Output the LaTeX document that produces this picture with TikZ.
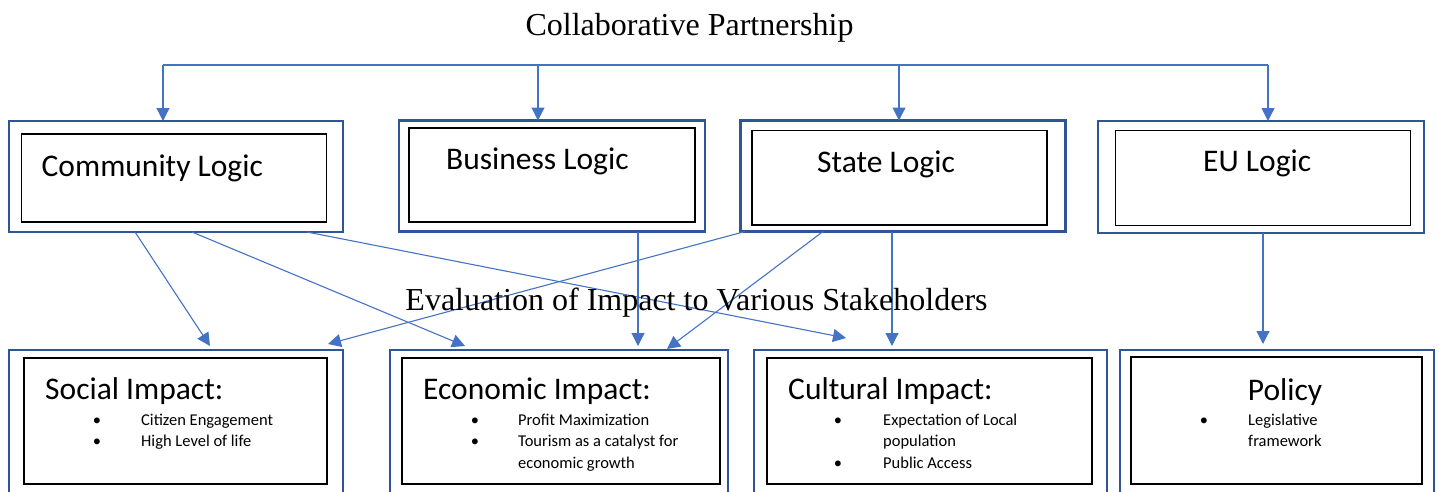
\documentclass[tikz,border=0pt]{standalone}
\usepackage{fontspec}
\setmainfont{Carlito}
\newfontfamily\serifface{Liberation Serif}
\usetikzlibrary{arrows.meta}

\definecolor{linkblue}{HTML}{4472C4}
\definecolor{frameblue}{HTML}{2F5597}

\tikzset{
  outerbox/.style={draw=frameblue, line width=2.8pt, anchor=north west, inner sep=0pt, outer sep=0pt},
  innerbox/.style={draw=black, line width=1.2pt, anchor=north west, inner sep=0pt, outer sep=0pt},
  conn/.style={draw=linkblue, line width=1.1pt},
  arr/.style={conn, -{Triangle[length=13pt,width=13pt]}},
  title/.style={font=\serifface\fontsize{32}{36}\selectfont, anchor=base, inner sep=0pt},
  heading/.style={font=\fontsize{31.5}{36}\selectfont, anchor=base west, inner sep=0pt},
  item/.style={font=\fontsize{16.5}{20}\selectfont, anchor=base west, inner sep=0pt},
  dot/.style={font=\fontsize{16.5}{20}\selectfont, anchor=base, inner sep=0pt}
}

\begin{document}
\begin{tikzpicture}[x=1pt, y=-1pt]
\useasboundingbox (0,0) rectangle (1442,491);
\clip (0,0) rectangle (1442,491);

% titles
\node[title] (t1) at (689.5,35.5) {Collaborative Partnership};

% logic boxes
\node[outerbox, minimum width=334pt, minimum height=111pt] (commO) at (9,121) {};
\node[innerbox, minimum width=305pt, minimum height=88pt] (commI) at (21.5,134) {};
\node[heading] (commT) at (41.5,176) {Community Logic};

\node[outerbox, minimum width=306pt, minimum height=111pt] (busO) at (399,120.5) {};
\node[innerbox, minimum width=286pt, minimum height=94pt] (busI) at (409,128) {};
\node[heading] (busT) at (446,169.5) {Business Logic};

\node[outerbox, minimum width=325pt, minimum height=111pt] (stateO) at (740.5,120.5) {};
\node[innerbox, minimum width=295pt, minimum height=94.5pt] (stateI) at (752,130.5) {};
\node[heading] (stateT) at (817,172.3) {State Logic};

\node[outerbox, minimum width=326pt, minimum height=112pt] (euO) at (1098,121) {};
\node[innerbox, minimum width=295pt, minimum height=95pt] (euI) at (1115.5,130.5) {};
\node[heading] (euT) at (1203,171.7) {EU Logic};

% impact boxes
\node[outerbox, minimum width=334pt, minimum height=150pt] (socO) at (9,350) {};
\node[innerbox, minimum width=303pt, minimum height=126pt] (socI) at (24,358) {};
\node[heading] (socT) at (45,399) {Social Impact:};
\node[dot] (socB1) at (97,425) {•};
\node[item] (socL1) at (141,425) {Citizen Engagement};
\node[dot] (socB2) at (97,446.5) {•};
\node[item] (socL2) at (141,446.5) {High Level of life};

\node[outerbox, minimum width=338pt, minimum height=150pt] (ecoO) at (390,350) {};
\node[innerbox, minimum width=318pt, minimum height=126pt] (ecoI) at (402,358) {};
\node[heading] (ecoT) at (423,399) {Economic Impact:};
\node[dot] (ecoB1) at (475,425) {•};
\node[item] (ecoL1) at (518,425) {Profit Maximization};
\node[dot] (ecoB2) at (475,446.5) {•};
\node[item] (ecoL2) at (518,446.5) {Tourism as a catalyst for};
\node[item] (ecoL3) at (518,468) {economic growth};

\node[outerbox, minimum width=353pt, minimum height=150pt] (culO) at (754,350) {};
\node[innerbox, minimum width=325pt, minimum height=126pt] (culI) at (767,358) {};
\node[heading] (culT) at (788,399) {Cultural Impact:};
\node[dot] (culB1) at (838,425) {•};
\node[item] (culL1) at (883,425) {Expectation of Local};
\node[item] (culL2) at (883,446.5) {population};
\node[dot] (culB2) at (838,468) {•};
\node[item] (culL3) at (883,468) {Public Access};

\node[outerbox, minimum width=314pt, minimum height=150pt] (polO) at (1120,350) {};
\node[innerbox, minimum width=291pt, minimum height=127pt] (polI) at (1131,357) {};
\node[heading, anchor=base] (polT) at (1285,400) {Policy};
\node[dot] (polB1) at (1204,425) {•};
\node[item] (polL1) at (1248,425) {Legislative};
\node[item] (polL2) at (1248,446) {framework};

% partnership bus feeding the four logics
\coordinate (h1) at (163,65);
\coordinate (h2) at (538,65);
\coordinate (h3) at (899,65);
\coordinate (h4) at (1268,65);
\draw[conn] (h1) -- (h4);
\draw[arr] (h1) -- (h1 |- commO.north);
\draw[arr] (h2) -- (h2 |- busO.north);
\draw[arr] (h3) -- (h3 |- stateO.north);
\draw[arr] (h4) -- (h4 |- euO.north);

% links from logics to impacts
\draw[arr] ([xshift=126pt]commO.south west) -- ([xshift=201pt,yshift=4pt]socO.north west);
\draw[arr] ([xshift=183pt]commO.south west) -- ([xshift=75pt,yshift=4pt]ecoO.north west);
\draw[arr] ([xshift=298pt]commO.south west) -- ([xshift=92pt,yshift=12pt]culO.north west);
\draw[arr] ([xshift=239pt]busO.south west) -- ([xshift=248pt,yshift=4pt]ecoO.north west);
\draw[arr] ([xshift=4.5pt]stateO.south west) -- ([xshift=319pt,yshift=6pt]socO.north west);
\draw[arr] ([xshift=82.5pt]stateO.south west) -- ([xshift=277pt,yshift=1pt]ecoO.north west);
\draw[arr] ([xshift=151.5pt]stateO.south west) -- ([xshift=138pt,yshift=4pt]culO.north west);
\draw[arr] ([xshift=165pt]euO.south west) -- ([xshift=143pt,yshift=6pt]polO.north west);

\node[title] (t2) at (696.5,310) {Evaluation of Impact to Various Stakeholders};
\end{tikzpicture}
\end{document}
